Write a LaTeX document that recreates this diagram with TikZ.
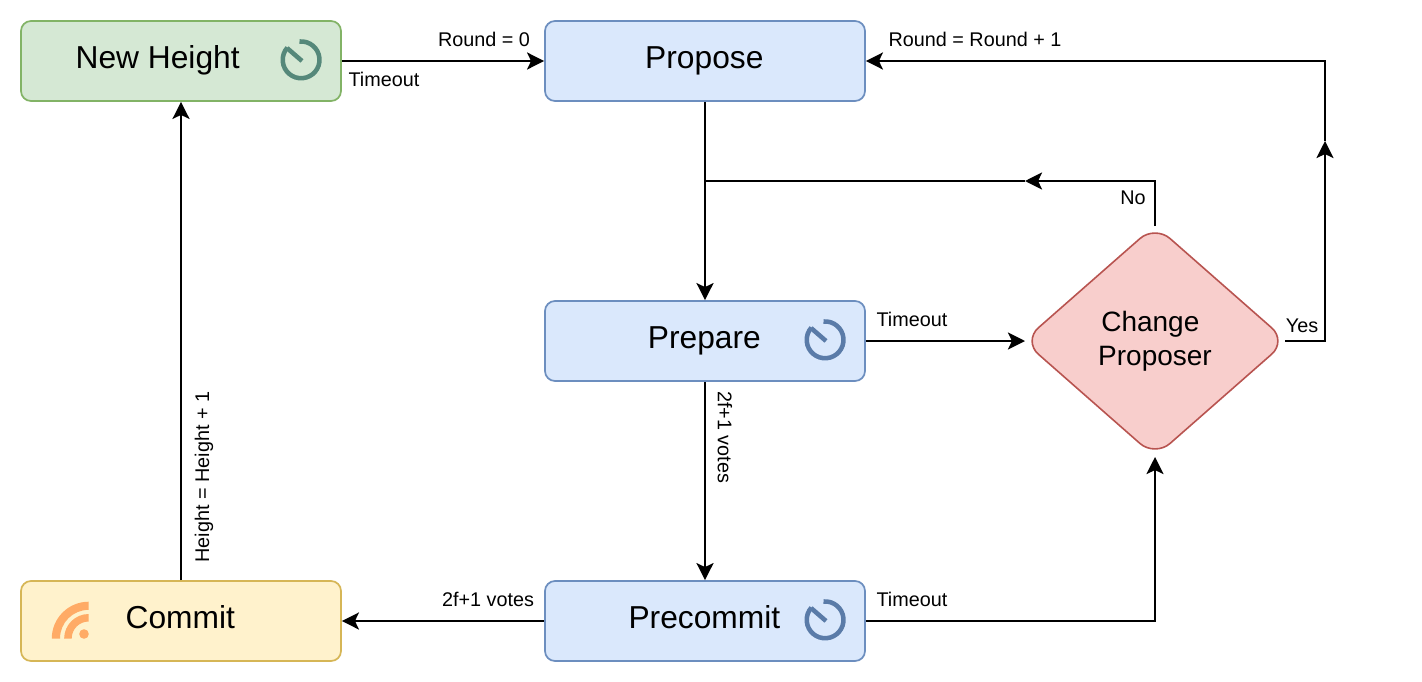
\documentclass[tikz,border=0pt]{standalone}
\usepackage{fontspec}
\setmainfont{Liberation Sans}
\usetikzlibrary{arrows.meta,shapes.geometric}
\definecolor{gfill}{HTML}{D5E8D4}\definecolor{gline}{HTML}{82B366}
\definecolor{bfill}{HTML}{DAE8FC}\definecolor{bline}{HTML}{6C8EBF}
\definecolor{rfill}{HTML}{F8CECC}\definecolor{rline}{HTML}{B85450}
\definecolor{yfill}{HTML}{FFF2CC}\definecolor{yline}{HTML}{D6B656}
\definecolor{gicon}{HTML}{55887A}\definecolor{bicon}{HTML}{5A7BA8}\definecolor{oicon}{HTML}{FFAB66}
\tikzset{
  x=0.75pt,y=-0.75pt,
  box/.style={draw,rounded corners=7.5pt,line width=1.3pt,minimum width=240pt,minimum height=60pt,inner sep=0pt,
    font=\fontsize{23.8pt}{28pt}\selectfont,text height=18pt,text depth=7.5pt,anchor=center},
  conn/.style={line width=1.5pt,line join=miter},
  arr/.style={conn,-{Stealth[length=12.8pt,width=12.8pt,inset=3pt]}},
  lab/.style={font=\fontsize{14.85pt}{18pt}\selectfont,inner sep=0pt,text height=12.5pt,text depth=1.7pt},
  clock/.style={line width=3.4pt,line cap=butt},
}
\begin{document}
\begin{tikzpicture}
\useasboundingbox (0,0) rectangle (1422,682);
\node[box,fill=gfill,draw=gline] (nh) at (181,61) {New Height\hspace*{35pt}\null};
\node[box,fill=bfill,draw=bline] (pro) at (705,61) {\hspace*{-1pt}Propose};
\node[box,fill=bfill,draw=bline] (pre) at (705,341) {\hspace*{-1pt}Prepare};
\node[box,fill=bfill,draw=bline] (pc) at (705,621) {\hspace*{-1pt}Precommit};
\node[box,fill=yfill,draw=yline] (com) at (181,621) {\hspace*{-1pt}Commit};
\node[diamond,draw=rline,fill=rfill,line width=1.2pt,rounded corners=15pt,minimum width=198pt,minimum height=174pt,inner sep=0pt,
  font=\fontsize{21pt}{25.5pt}\selectfont,align=center] (cp) at (1155,341) {Change\hspace*{7pt}\null\\Proposer};
% icons
\draw[clock,gicon] (299.5,41.5) arc[start angle=95,end angle=-222,radius=13.8pt];
\draw[clock,gicon] (287,48) -- (302,61);
\draw[clock,bicon] (823.5,321.5) arc[start angle=95,end angle=-222,radius=13.8pt];
\draw[clock,bicon] (811,328) -- (826,341);
\draw[clock,bicon] (823.5,601.5) arc[start angle=95,end angle=-222,radius=13.8pt];
\draw[clock,bicon] (811,608) -- (826,621);
\fill[oicon] (88.7,601.7) arc[start angle=90,end angle=180,radius=27.7pt] -- (60,638.5) arc[start angle=180,end angle=90,radius=21.5pt] -- cycle;
\fill[oicon] (88.7,614) arc[start angle=90,end angle=180,radius=18.4pt] -- (71.7,638.5) arc[start angle=180,end angle=90,radius=12.75pt] -- cycle;
\fill[oicon] (84,634) circle[radius=3.6pt];
% coordinates
\coordinate (cpN) at (1155,226);
\coordinate (cpNc) at (1155,181);
\coordinate (noTip) at (1025,181);
\coordinate (join) at (705,181);
\coordinate (cpE) at (1285,341);
\coordinate (cpEc) at (1325,341);
\coordinate (yesTip) at (1325,141);
\coordinate (topC) at (1325,61);
\coordinate (cpW) at (1025,341);
\coordinate (cpS) at (1155,457);
\coordinate (pcC) at (1155,621);
% connectors
\draw[arr] (nh.east) -- (pro.west);
\draw[arr] (pro.south) -- (pre.north);
\draw[arr] (pre.east) -- (cpW);
\draw[arr] (pre.south) -- (pc.north);
\draw[arr] (pc.west) -- (com.east);
\draw[arr] (com.north) -- (nh.south);
\draw[arr] (pc.east) -- (pcC) -- (cpS);
\draw[arr] (cpN) -- (cpNc) -- (noTip);
\draw[conn] (noTip) -- (join);
\draw[arr] (cpE) -- (cpEc) -- (yesTip);
\draw[arr] (yesTip) -- (topC) -- (pro.east);
% labels
\node[lab] (l1) at (484,39) {Round = 0};
\node[lab] (l2) at (384,79) {Timeout};
\node[lab] (l3) at (975,39) {Round = Round + 1};
\node[lab] (l4) at (1133,197) {No};
\node[lab] (l5) at (1302,325) {Yes};
\node[lab] (l6) at (912,319) {Timeout};
\node[lab,rotate=-90] (l7) at (725,437) {2f+1 votes};
\node[lab] (l8) at (488,599) {2f+1 votes};
\node[lab] (l9) at (912,599) {Timeout};
\node[lab,rotate=90] (l10) at (202,477) {Height = Height + 1};
\end{tikzpicture}
\end{document}
